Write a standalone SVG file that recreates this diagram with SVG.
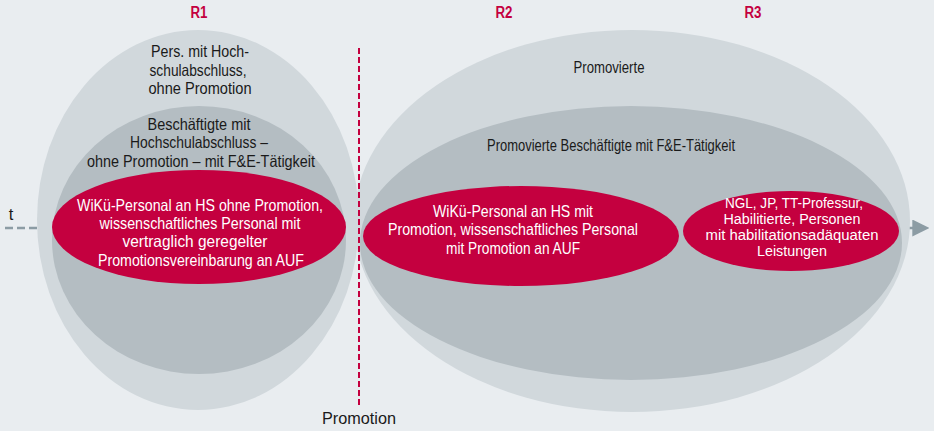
<svg xmlns="http://www.w3.org/2000/svg" width="934" height="431" viewBox="0 0 934 431">
<defs>
<style>
.bg{fill:#E9EDF0}
.outer{fill:#D1D8DC}
.mid{fill:#B4BDC2}
.red{fill:#C4003F}
text{font-family:"Liberation Sans",Arial,sans-serif;text-anchor:middle}
.dk{fill:#1A1A1A;font-size:16.5px}
.wh{fill:#FFFFFF;font-size:16.5px}
.wh2{fill:#FFFFFF;font-size:14px}
.hd{fill:#C4003F;font-size:16px;font-weight:bold}
</style>
<marker id="arr" viewBox="0 0 10 10" refX="1" refY="5" markerWidth="17" markerHeight="17" markerUnits="userSpaceOnUse" orient="auto">
<path d="M0,0 L10,5 L0,10 z" fill="#8C9CA4"/>
</marker>
</defs>
<rect class="bg" x="0" y="0" width="934" height="431"/>
<g id="connectors">
<line x1="5" y1="228" x2="914" y2="228" stroke="#8C9CA4" stroke-width="2.5" stroke-dasharray="8 4" marker-end="url(#arr)"/>
</g>
<g id="r1-outer">
<ellipse class="outer" cx="198" cy="220" rx="161" ry="190"/>
<text class="dk" x="200" y="57" textLength="98" lengthAdjust="spacingAndGlyphs">Pers. mit Hoch-</text>
<text class="dk" x="198" y="76" textLength="97" lengthAdjust="spacingAndGlyphs">schulabschluss,</text>
<text class="dk" x="200" y="94" textLength="103" lengthAdjust="spacingAndGlyphs">ohne Promotion</text>
</g>
<g id="r23-outer">
<ellipse class="outer" cx="632" cy="221" rx="278" ry="191"/>
<text class="dk" x="609" y="73" textLength="71" lengthAdjust="spacingAndGlyphs">Promovierte</text>
</g>
<g id="r1-mid">
<ellipse class="mid" cx="199" cy="240" rx="147" ry="134"/>
<text class="dk" x="199" y="130" textLength="103" lengthAdjust="spacingAndGlyphs">Beschäftigte mit</text>
<text class="dk" x="199" y="148" textLength="138" lengthAdjust="spacingAndGlyphs">Hochschulabschluss –</text>
<text class="dk" x="201" y="167" textLength="228" lengthAdjust="spacingAndGlyphs">ohne Promotion – mit F&amp;E-Tätigkeit</text>
</g>
<g id="r23-mid">
<ellipse class="mid" cx="631" cy="243" rx="271" ry="137"/>
<text class="dk" x="611" y="151" textLength="248" lengthAdjust="spacingAndGlyphs">Promovierte Beschäftigte mit F&amp;E-Tätigkeit</text>
</g>
<g id="r1-red">
<ellipse class="red" cx="199" cy="227" rx="147" ry="57"/>
<text class="wh" x="200" y="211" textLength="246" lengthAdjust="spacingAndGlyphs">WiKü-Personal an HS ohne Promotion,</text>
<text class="wh" x="200" y="229" textLength="201" lengthAdjust="spacingAndGlyphs">wissenschaftliches Personal mit</text>
<text class="wh" x="195" y="247" textLength="145" lengthAdjust="spacingAndGlyphs">vertraglich geregelter</text>
<text class="wh" x="201" y="266" textLength="206" lengthAdjust="spacingAndGlyphs">Promotionsvereinbarung an AUF</text>
</g>
<g id="r2-red">
<ellipse class="red" cx="521" cy="236" rx="158" ry="50"/>
<text class="wh" x="513" y="217" textLength="160" lengthAdjust="spacingAndGlyphs">WiKü-Personal an HS mit</text>
<text class="wh" x="513" y="235" textLength="250" lengthAdjust="spacingAndGlyphs">Promotion, wissenschaftliches Personal</text>
<text class="wh" x="513" y="254" textLength="134" lengthAdjust="spacingAndGlyphs">mit Promotion an AUF</text>
</g>
<g id="r3-red">
<ellipse class="red" cx="791" cy="231" rx="108" ry="40"/>
<text class="wh2" x="794" y="208" textLength="138" lengthAdjust="spacingAndGlyphs">NGL, JP, TT-Professur,</text>
<text class="wh2" x="792" y="224" textLength="137" lengthAdjust="spacingAndGlyphs">Habilitierte, Personen</text>
<text class="wh2" x="792" y="240" textLength="173" lengthAdjust="spacingAndGlyphs">mit habilitationsadäquaten</text>
<text class="wh2" x="792" y="256" textLength="70" lengthAdjust="spacingAndGlyphs">Leistungen</text>
</g>
<g id="promotion-line">
<line x1="359" y1="48" x2="359" y2="406" stroke="#C4003F" stroke-width="2" stroke-dasharray="6 3"/>
<text class="dk" x="359" y="424" font-size="17.5" textLength="74" lengthAdjust="spacingAndGlyphs">Promotion</text>
</g>
<g id="labels">
<text class="hd" x="199" y="18" textLength="17" lengthAdjust="spacingAndGlyphs">R1</text>
<text class="hd" x="504" y="18" textLength="17" lengthAdjust="spacingAndGlyphs">R2</text>
<text class="hd" x="753" y="18" textLength="17" lengthAdjust="spacingAndGlyphs">R3</text>
<text class="dk" x="11" y="220" font-size="18">t</text>
</g>
</svg>
